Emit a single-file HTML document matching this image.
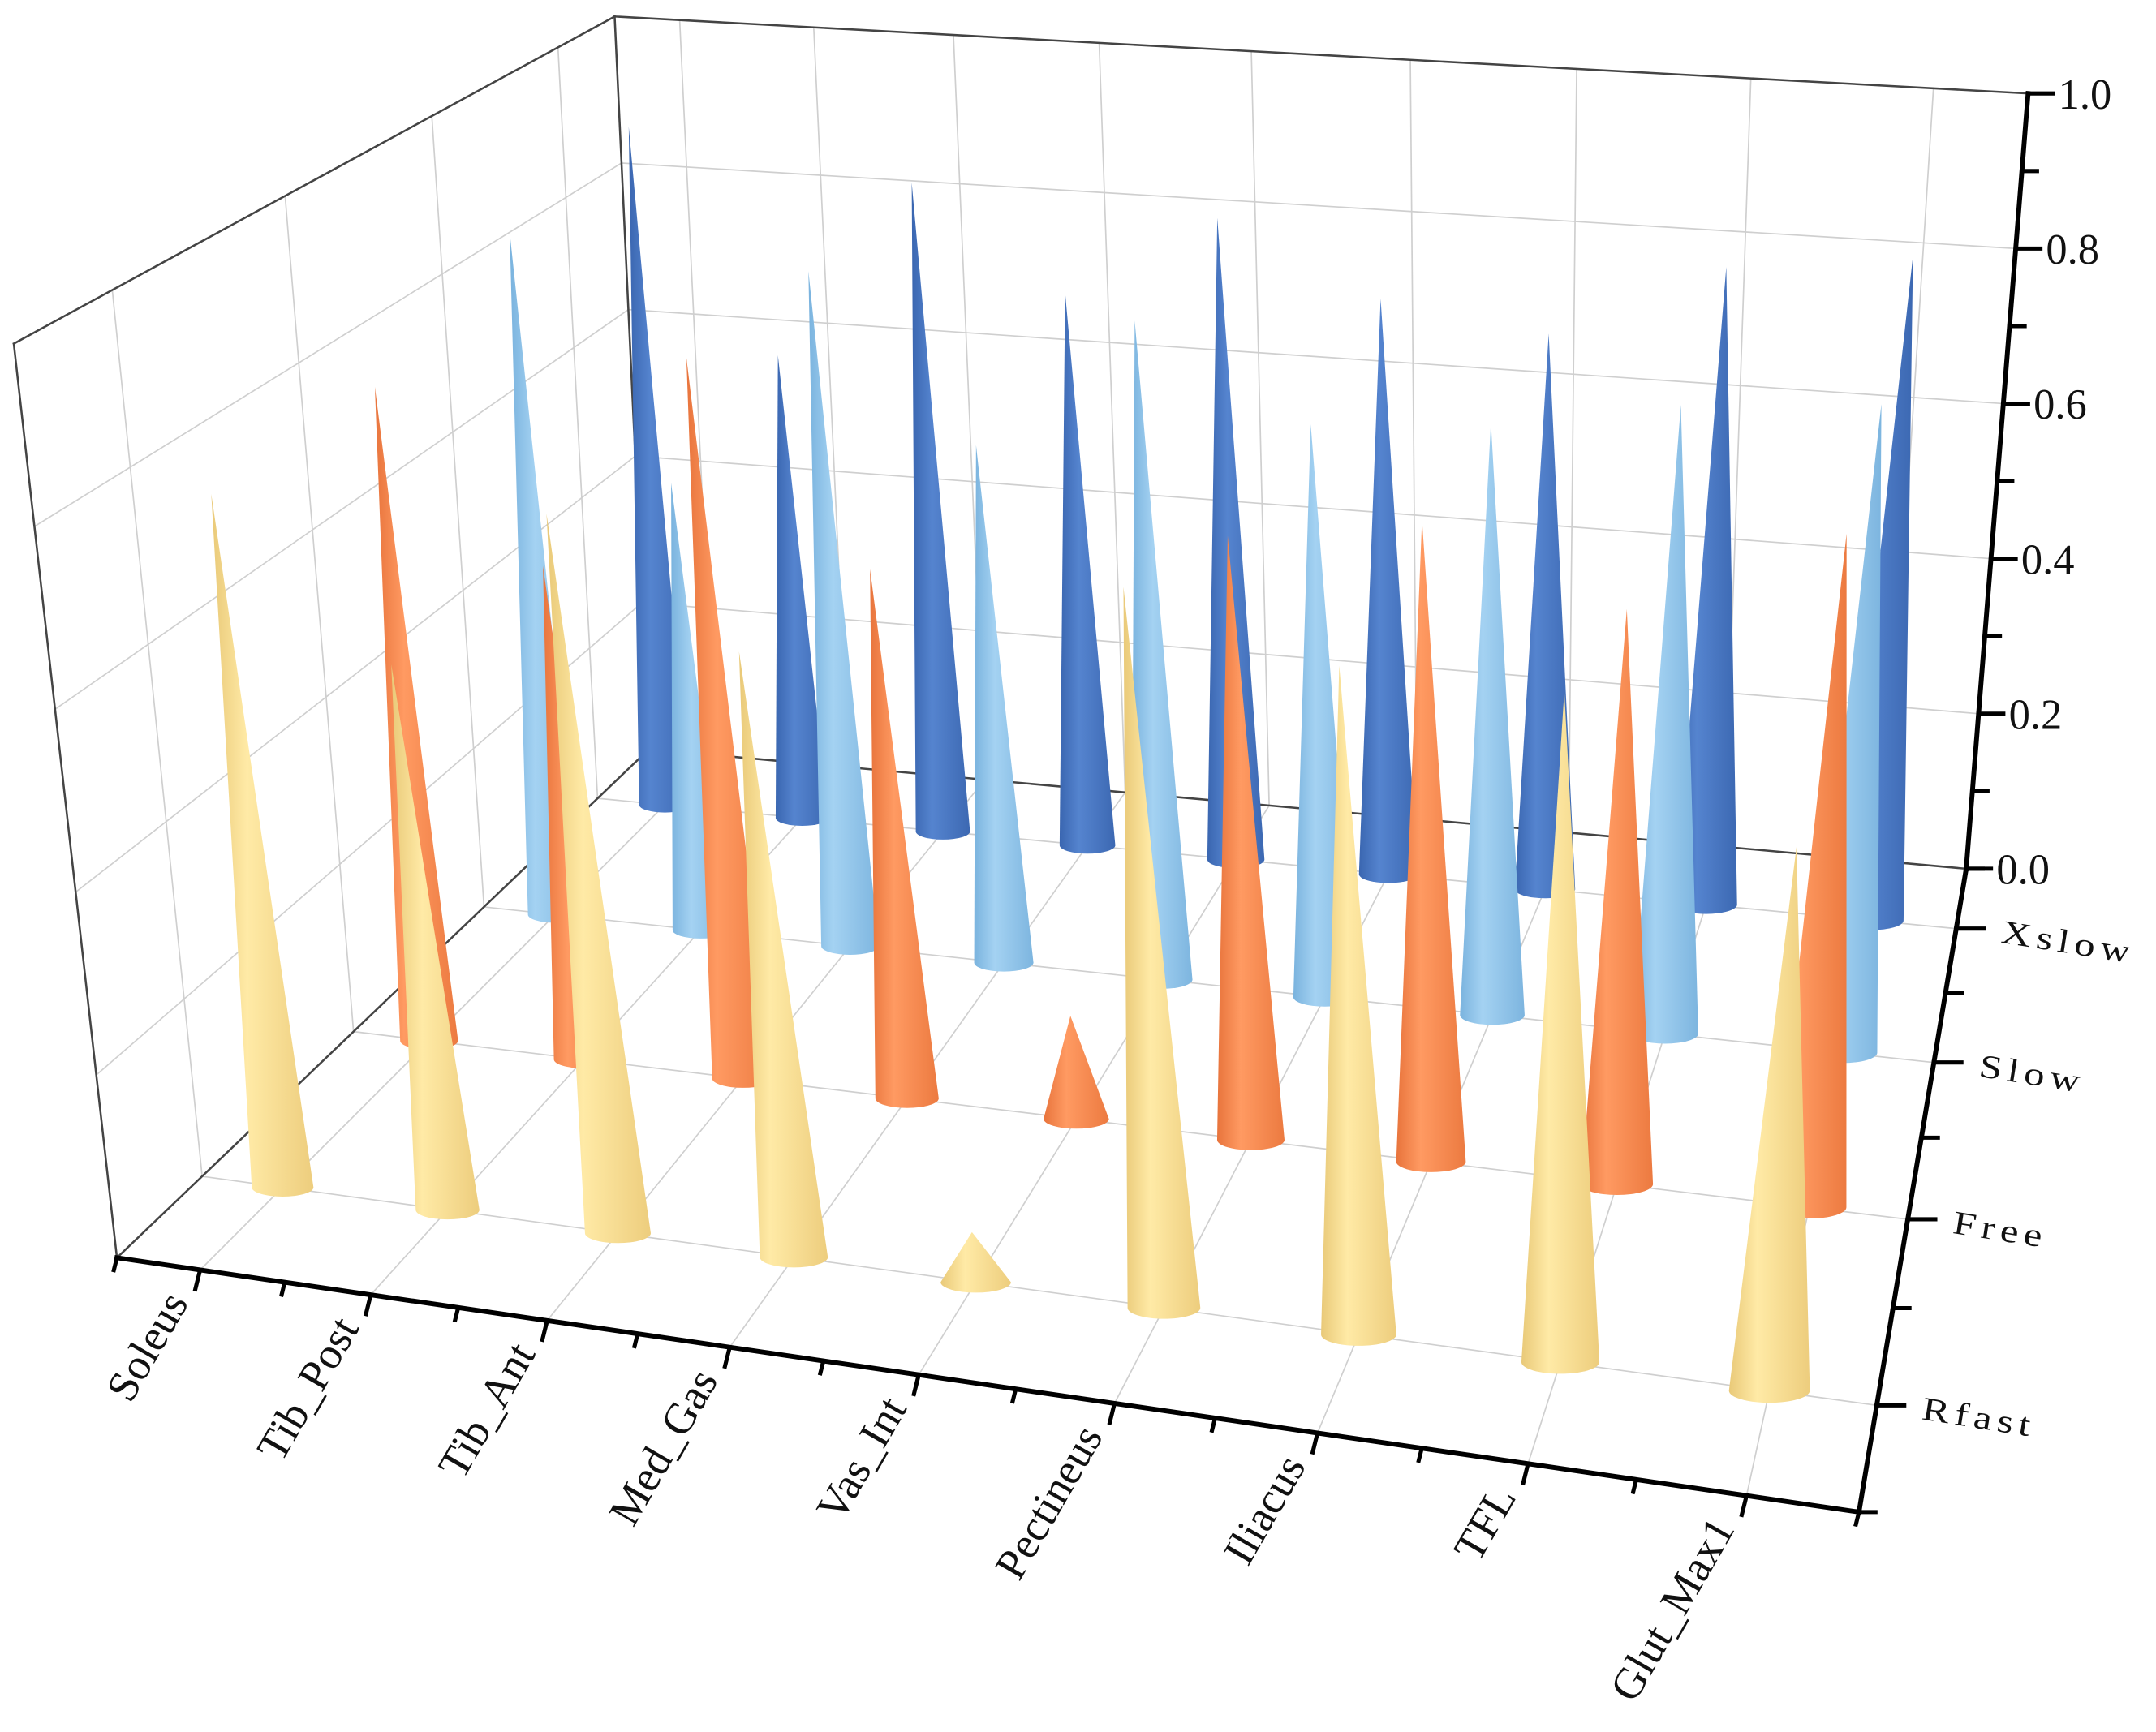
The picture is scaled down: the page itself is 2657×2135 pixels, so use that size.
<!DOCTYPE html>
<html><head><meta charset="utf-8"><style>
html,body{margin:0;padding:0;background:#fff;}
svg{display:block;}
text{font-family:"Liberation Serif",serif;fill:#111;}
</style></head><body>
<svg id="chart" width="2657" height="2135" viewBox="0 0 1568 1260" xmlns="http://www.w3.org/2000/svg">
<defs>
<linearGradient id="g-yellow" x1="0" x2="1" y1="0" y2="0"><stop offset="0" stop-color="#e9c978"/><stop offset="0.35" stop-color="#ffeaa6"/><stop offset="1" stop-color="#edcd7d"/></linearGradient>
<linearGradient id="g-orange" x1="0" x2="1" y1="0" y2="0"><stop offset="0" stop-color="#e8743c"/><stop offset="0.35" stop-color="#ff9a62"/><stop offset="1" stop-color="#ec7a40"/></linearGradient>
<linearGradient id="g-lblue" x1="0" x2="1" y1="0" y2="0"><stop offset="0" stop-color="#7ab3de"/><stop offset="0.35" stop-color="#a4d2f2"/><stop offset="1" stop-color="#7db5df"/></linearGradient>
<linearGradient id="g-dblue" x1="0" x2="1" y1="0" y2="0"><stop offset="0" stop-color="#3a66b0"/><stop offset="0.35" stop-color="#5584cf"/><stop offset="1" stop-color="#3c68b2"/></linearGradient>
</defs>
<g id="grid"></g>
<g id="frame"></g>
<g id="cones"></g>
<g id="axes"></g>
</svg>
<script>
const muscles = ["Soleus","Tib_Post","Tib_Ant","Med_Gas","Vas_Int","Pectineus","Iliacus","TFL","Glut_Max1"];
const speeds = ["Rfast","Free","Slow","Xslow"];
const rfastValues = [0.78,0.61,0.80,0.67,0.055,0.79,0.73,0.73,0.59];
const freeValues  = [0.78,0.585,0.85,0.62,0.12,0.70,0.74,0.66,0.77];
const slowValues  = [0.86,0.56,0.84,0.64,0.81,0.70,0.72,0.76,0.78];
const xslowValues = [0.90,0.61,0.85,0.72,0.83,0.74,0.71,0.81,0.84];
const zTicks = ["0.0","0.2","0.4","0.6","0.8","1.0"];

const NS="http://www.w3.org/2000/svg";
function homog(p0,p1,p2,p3){
  const [x0,y0]=p0,[x1,y1]=p1,[x2,y2]=p2,[x3,y3]=p3;
  const dx1=x1-x2,dx2=x3-x2,dx3=x0-x1+x2-x3,dy1=y1-y2,dy2=y3-y2,dy3=y0-y1+y2-y3;
  const den=dx1*dy2-dy1*dx2;
  const g=(dx3*dy2-dy3*dx2)/den,h=(dx1*dy3-dy1*dx3)/den;
  const a=x1-x0+g*x1,b=x3-x0+h*x3,c=x0,d=y1-y0+g*y1,e=y3-y0+h*y3,f=y0;
  return (u,v)=>{const w=g*u+h*v+1;return [(a*u+b*v+c)/w,(d*u+e*v+f)/w];};
}
const floorH=homog([85,915],[1352,1100],[1430,632],[472,545]);
const topH=homog([10,250],[1403,412],[1475,68],[447,12]);
function P(u,v,z){const a=floorH(u,v),b=topH(u,v);return [a[0]+(b[0]-a[0])*z,a[1]+(b[1]-a[1])*z];}
const nx=muscles.length, ny=speeds.length;
const uOf=i=>(i+0.5)/nx, vOf=j=>(j+0.5)/ny;
function mk(tag,attrs,parent){const el=document.createElementNS(NS,tag);for(const k in attrs)el.setAttribute(k,attrs[k]);parent.appendChild(el);return el;}
function line(a,b,st,w,parent,name){const el=mk('line',{x1:a[0],y1:a[1],x2:b[0],y2:b[1],stroke:st,'stroke-width':w,'stroke-linecap':'square'},parent);
  
  
  return el;}

const grid=document.getElementById('grid');
const GC="#cfcfcf";
for(let k=1;k<=5;k++){const z=k*0.2;
  line(P(0,0,z),P(0,1,z),GC,1,grid,'left-wall-gridline');
  line(P(0,1,z),P(1,1,z),GC,1,grid,'back-wall-gridline');}
for(let j=0;j<ny;j++){const v=vOf(j);
  line(P(0,v,0),P(0,v,1),GC,1,grid,'left-wall-gridline');
  line(P(0,v,0),P(1,v,0),GC,1,grid,'floor-gridline');}
for(let i=0;i<nx;i++){const u=uOf(i);
  line(P(u,1,0),P(u,1,1),GC,1,grid,'back-wall-gridline');
  line(P(u,0,0),P(u,1,0),GC,1,grid,'floor-gridline');}

const frame=document.getElementById('frame');
const FC="#444";
line(P(0,0,0),P(0,0,1),FC,1.5,frame,'left-wall-front-edge');
line(P(0,0,1),P(0,1,1),FC,1.5,frame,'left-wall-top-edge');
line(P(0,1,1),P(1,1,1),FC,1.5,frame,'back-wall-top-edge');
line(P(0,1,0),P(0,1,1),FC,1.5,frame,'back-left-edge');
line(P(0,0,0),P(0,1,0),FC,1.5,frame,'floor-left-edge');
line(P(0,1,0),P(1,1,0),FC,1.5,frame,'floor-back-edge');

const cones=document.getElementById('cones');
const seriesVals=[rfastValues,freeValues,slowValues,xslowValues];
const grads=['g-yellow','g-orange','g-lblue','g-dblue'];
const seriesNames=['rfast','free','slow','xslow'];
const du=0.19/nx;
for(let j=ny-1;j>=0;j--){
  for(let i=0;i<nx;i++){
    const u=uOf(i),v=vOf(j),val=seriesVals[j][i];
    const c=P(u,v,0),l=P(u-du,v,0),r=P(u+du,v,0),t=P(u,v,val);
    const rx=(r[0]-l[0])/2, ry=rx*0.3;
    const d=`M${c[0]-rx},${c[1]} L${t[0]},${t[1]} L${c[0]+rx},${c[1]} A${rx},${ry} 0 0 1 ${c[0]-rx},${c[1]} Z`;
    const p=mk('path',{d:d,fill:`url(#${grads[j]})`},cones);
    
    
  }
}

const axes=document.getElementById('axes');
line(P(0,0,0),P(1,0,0),"#000",3.5,axes,'x-axis-line');
for(let k=0;k<=2*nx;k++){
  const u=k/(2*nx), a=P(u,0,0); const major=(k%2===1);
  const len=major?14:9;
  line(a,[a[0]-len*0.25,a[1]+len],"#000",3,axes,major?'x-major-tick':'x-minor-tick');
  if(major){const i=(k-1)/2;
    const tx=a[0]-8, ty=a[1]+24;
    const te=mk('text',{x:tx,y:ty,'font-size':32,'text-anchor':'end',transform:`rotate(-60 ${tx} ${ty})`},axes);
    te.textContent=muscles[i];
    
    }
}
line(P(1,0,0),P(1,1,0),"#000",3.5,axes,'y-axis-line');
for(let k=0;k<=2*ny;k++){
  const v=k/(2*ny), a=P(1,v,0); const major=(k%2===1);
  const len=major?20:12;
  line(a,[a[0]+len,a[1]],"#000",3,axes,major?'y-major-tick':'y-minor-tick');
  if(major){const j=(k-1)/2;
    const tx=a[0]+32, ty=a[1]+10;
    const te=mk('text',{x:0,y:0,'font-size':30,'letter-spacing':'4',transform:`translate(${tx} ${ty}) rotate(9) scale(1,0.8)`},axes);
    te.textContent=speeds[j];
    
    }
}
line(P(1,1,0),P(1,1,1),"#000",3.5,axes,'z-axis-line');
for(let k=0;k<=10;k++){
  const z=k/10, a=P(1,1,z); const major=(k%2===0);
  const len=major?18:11;
  line(a,[a[0]+len,a[1]],"#000",3,axes,major?'z-major-tick':'z-minor-tick');
  if(major){
    const te=mk('text',{x:a[0]+22,y:a[1]+11,'font-size':31},axes);
    te.textContent=zTicks[k/2];
    
    }
}
</script>
</body></html>
